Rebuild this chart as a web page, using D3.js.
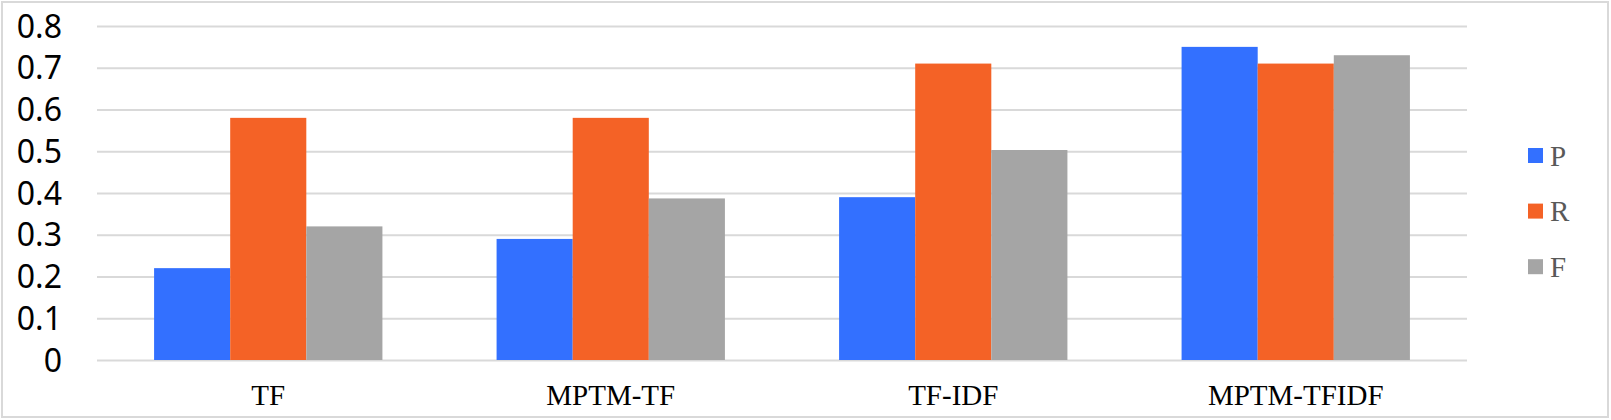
<!DOCTYPE html>
<html>
<head>
<meta charset="utf-8">
<script src="https://cdn.jsdelivr.net/npm/d3@7"></script>
<style>
  html, body { margin: 0; padding: 0; background: #fff; }
  svg { display: block; }
</style>
</head>
<body>
<svg id="chart" width="1611" height="420"></svg>
<script>
const categories = ["TF", "MPTM-TF", "TF-IDF", "MPTM-TFIDF"];
const seriesNames = ["P", "R", "F"];
const valuesP = [0.22, 0.29, 0.39, 0.75];
const valuesR = [0.58, 0.58, 0.71, 0.71];
const valuesF = [0.32, 0.387, 0.503, 0.73];
const yTicks = [0, 0.1, 0.2, 0.3, 0.4, 0.5, 0.6, 0.7, 0.8];
const colors = ["#3370FF", "#F46226", "#A5A5A5"];

const seriesValues = [valuesP, valuesR, valuesF];

const svg = d3.select("#chart");
const W = 1611, H = 420;

// outer border
svg.append("rect")
  .attr("x", 2).attr("y", 2).attr("width", W - 5).attr("height", H - 5)
  .attr("fill", "#fff").attr("stroke", "#d9d9d9").attr("stroke-width", 2);

const plot = { left: 97, right: 1467, top: 26, bottom: 360 };

const y = d3.scaleLinear().domain([0, 0.8]).range([plot.bottom, plot.top]);
const x0 = d3.scaleBand().domain(categories).range([plot.left, plot.right]).padding(0);
const bw = x0.bandwidth();
const gapHalf = bw * 0.75 / 4.5;
const x1 = d3.scaleBand().domain(seriesNames).range([gapHalf, bw - gapHalf]).padding(0);

// gridlines
const grid = d3.axisLeft(y).tickValues(yTicks).tickSize(-(plot.right - plot.left)).tickFormat("");
svg.append("g")
  .attr("transform", `translate(${plot.left},0)`)
  .call(grid)
  .call(g => g.select(".domain").remove())
  .call(g => g.selectAll("line").attr("stroke", "#d9d9d9").attr("stroke-width", 2));

// y labels
svg.append("g")
  .selectAll("text")
  .data(yTicks)
  .join("text")
  .attr("x", 62)
  .attr("y", d => y(d))
  .attr("dy", "0.36em")
  .attr("text-anchor", "end")
  .attr("font-family", "'Noto Sans', 'Open Sans', sans-serif")
  .attr("font-size", 32)
  .attr("fill", "#000")
  .text(d => d3.format("")(d));

// bars
const groups = svg.append("g")
  .selectAll("g")
  .data(categories)
  .join("g")
  .attr("transform", d => `translate(${x0(d)},0)`);

groups.selectAll("rect")
  .data((c, ci) => seriesNames.map((s, si) => ({ s, si, v: seriesValues[si][ci] })))
  .join("rect")
  .attr("x", d => x1(d.s))
  .attr("width", x1.bandwidth())
  .attr("y", d => y(d.v))
  .attr("height", d => y(0) - y(d.v))
  .attr("fill", d => colors[d.si]);

// category labels
svg.append("g")
  .selectAll("text")
  .data(categories)
  .join("text")
  .attr("x", d => x0(d) + bw / 2)
  .attr("y", 405)
  .attr("text-anchor", "middle")
  .attr("font-family", "'Liberation Serif', 'Times New Roman', serif")
  .attr("font-size", 29)
  .attr("fill", "#000")
  .text(d => d);

// legend
const legend = svg.append("g")
  .selectAll("g")
  .data(seriesNames)
  .join("g")
  .attr("transform", (d, i) => `translate(1528,${148 + i * 55.6})`);
legend.append("rect")
  .attr("width", 15).attr("height", 15)
  .attr("fill", (d, i) => colors[i]);
legend.append("text")
  .attr("x", 22).attr("y", 7.5).attr("dy", "0.35em")
  .attr("font-family", "'Liberation Serif', 'Times New Roman', serif")
  .attr("font-size", 29)
  .attr("fill", "#595959")
  .text(d => d);
</script>
</body>
</html>
